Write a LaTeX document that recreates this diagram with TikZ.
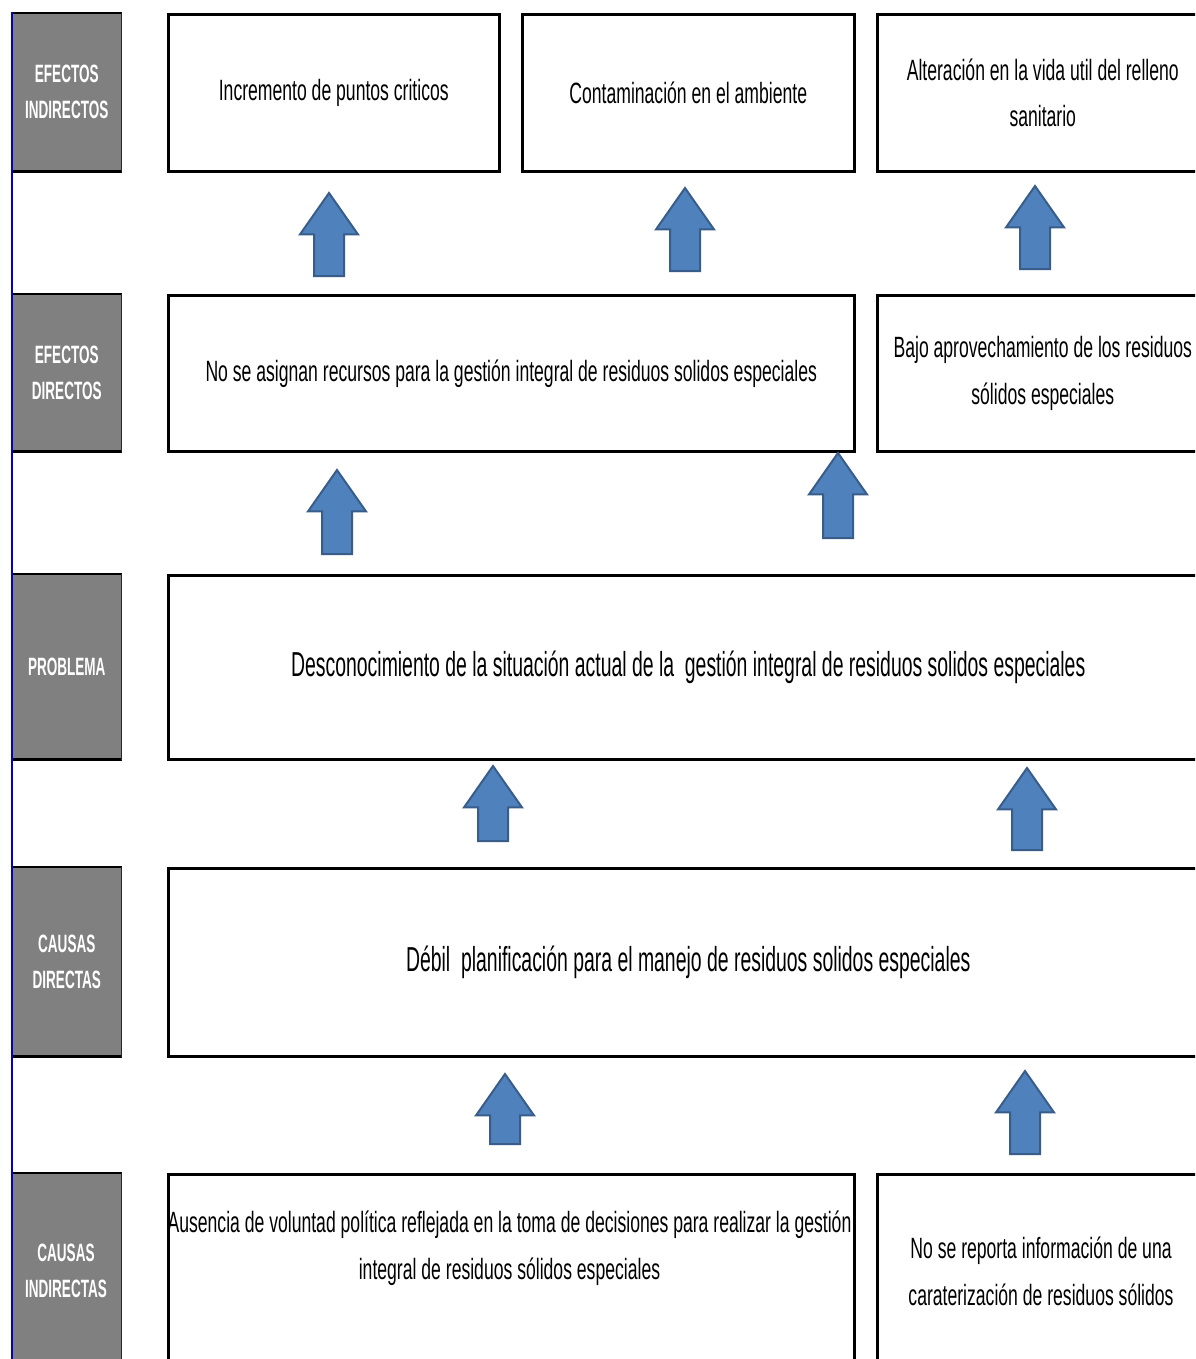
\documentclass[tikz,border=0pt]{standalone}
\usepackage{fontspec}
\setmainfont{Liberation Sans}
\newfontfamily\narrowfont[FakeStretch=0.54]{Liberation Sans}
\newfontfamily\medfont[FakeStretch=0.60]{Liberation Sans}
\newfontfamily\bigfont[FakeStretch=0.56]{Liberation Sans}
\usetikzlibrary{shapes.arrows}
\definecolor{labelgray}{HTML}{808080}
\definecolor{arrowfill}{HTML}{4F81BD}
\definecolor{arrowline}{HTML}{385D8A}
\definecolor{edgeblue}{HTML}{0000CC}
\tikzset{
  boxat/.style n args={4}{draw=black, line width=1.9pt, fill=white, inner sep=0pt,
    anchor=north west, align=center, at={(#1,#2)},
    minimum width={(#3-#1)*0.75pt}, minimum height={(#4-#2)*0.75pt},
    font={\medfont\fontsize{22}{35}\selectfont}},
  bigtext/.style={font={\bigfont\fontsize{26}{36}\selectfont}},
  medtext/.style={inner sep=0pt, align=center, font={\medfont\fontsize{22}{35}\selectfont}},
  grayat/.style n args={3}{fill=labelgray, draw=none, inner sep=0pt, anchor=north west,
    at={(12,#1)}, minimum width={109*0.75pt}, minimum height={(#2-#1)*0.75pt},
    text=white, align=center, font={\narrowfont\bfseries\fontsize{18.8}{27}\selectfont}},
  grayedge/.style={black, line width=1.6pt},
  grayright/.style={black!85, line width=1.2pt},
  uparrow/.style={single arrow, rotate=90, anchor=tail, fill=arrowfill, draw=arrowline,
    line width=1.5pt, inner xsep=0pt, inner ysep=10.5pt, single arrow head extend=10.5pt,
    single arrow tip angle=70, minimum height={#1*0.75pt}}
}
\begin{document}
\begin{tikzpicture}[x=0.75pt,y=-0.75pt]
\useasboundingbox (0,0) rectangle (1195,1359);
\clip (0,0) rectangle (1195,1359);
\fill[white] (0,0) rectangle (1195,1359);

% left label column
\node[grayat={13}{171}{}] (l1) {EFECTOS\\INDIRECTOS};
\node[grayat={294}{451}{}] (l2) {EFECTOS\\DIRECTOS};
\node[grayat={574}{759}{}] (l3) {PROBLEMA};
\node[grayat={867}{1056}{}] (l4) {CAUSAS\\DIRECTAS};
\node[grayat={1173}{1390}{}] (l5) {};
\node[text=white, align=center, inner sep=0pt, font={\narrowfont\bfseries\fontsize{18.8}{27}\selectfont}] (l5t) at (66,1271) {CAUSAS\\INDIRECTAS};
\foreach \n in {l1,l2,l3,l4,l5}{
  \draw[grayedge] (\n.north west) -- (\n.north east);
  \draw[grayedge, line width=2.2pt] (\n.south west) -- (\n.south east);
  \draw[grayright] (\n.north east) -- (\n.south east);
}

% row 1: efectos indirectos
\node[boxat={167}{13}{498}{170}] (a) {Incremento de puntos criticos};
\node[boxat={521}{13}{853}{170}] (b) {Contaminación en el ambiente};
\node[boxat={876}{13}{1207}{170}] (c) {Alteración en la vida util del relleno\\sanitario};

% row 2: efectos directos
\node[boxat={167}{294}{853}{450}] (d) {No se asignan recursos para la gestión integral de residuos solidos especiales};
\node[boxat={876}{294}{1207}{450}] (e) {Bajo aprovechamiento de los residuos\\sólidos especiales};

% row 3: problema
\node[boxat={167}{574}{1207}{758}, bigtext] (f) {Desconocimiento de la situación actual de la \ gestión integral de residuos solidos especiales};

% row 4: causas directas
\node[boxat={167}{867}{1207}{1055}, bigtext] (g) {Débil \ planificación para el manejo de residuos solidos especiales};

% row 5: causas indirectas
\node[boxat={167}{1173}{853}{1390}] (h) {};
\node[boxat={876}{1173}{1207}{1390}] (i) {};
\node[medtext] (ht) at (509.5,1248) {Ausencia de voluntad política reflejada en la toma de decisiones para realizar la gestión\\integral de residuos sólidos especiales};
\node[medtext] (it) at (1041,1271) {No se reporta información de una\\caraterización de residuos sólidos};

% arrows (placed by their tail, pointing up)
\node[uparrow=83] (ar1) at (329,277) {};
\node[uparrow=83] (ar2) at (685,272) {};
\node[uparrow=83] (ar3) at (1035,270) {};
\node[uparrow=84] (ar4) at (337,555) {};
\node[uparrow=85] (ar5) at (838,539) {};
\node[uparrow=75] (ar6) at (493,842) {};
\node[uparrow=82] (ar7) at (1027,851) {};
\node[uparrow=70] (ar8) at (505,1145) {};
\node[uparrow=83] (ar9) at (1025,1155) {};

% blue left edge
\coordinate (blueTop) at (12,12);
\coordinate (blueBottom) at (12,1359);
\draw[edgeblue, line width=1.5pt] (blueTop) -- (blueBottom);
\end{tikzpicture}
\end{document}
